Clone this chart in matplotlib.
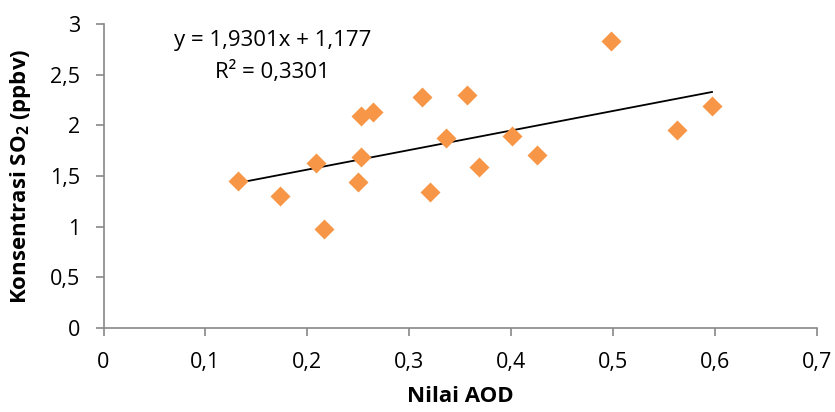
import numpy as np
import matplotlib
matplotlib.use("Agg")
import matplotlib.pyplot as plt
from matplotlib.ticker import FuncFormatter, MultipleLocator

plt.rcParams['font.family'] = ['Open Sans', 'DejaVu Sans']
plt.rcParams['mathtext.fontset'] = 'custom'
plt.rcParams['mathtext.rm'] = 'Open Sans'
plt.rcParams['mathtext.bf'] = 'Open Sans:bold'

aod = [0.132, 0.173, 0.208, 0.2165, 0.250, 0.2525, 0.2527, 0.264, 0.312,
       0.320, 0.3365, 0.357, 0.368, 0.401, 0.4257, 0.498, 0.563, 0.597]
so2 = [1.454, 1.30, 1.626, 0.974, 1.441, 2.096, 1.685, 2.135, 2.277,
       1.339, 1.876, 2.297, 1.586, 1.892, 1.705, 2.83, 1.955, 2.19]

slope = 1.9301
intercept = 1.177
eq_text = "y = 1,9301x + 1,177"
r2_text = "R² = 0,3301"

fig = plt.figure(figsize=(8.35, 4.12), dpi=100)
ax = fig.add_axes([103.5/835, 1 - 328/412, (817 - 103.5)/835, (328 - 24)/412])

ax.plot(aod, so2, 'D', color='#F79646', ms=10, mec='none', zorder=3)

xl = np.array([min(aod), max(aod)])
ax.plot(xl, slope*xl + intercept, color='black', lw=1.3, zorder=2)

ax.text(0.166, 2.84, eq_text, ha='center', va='center', fontsize=16)
ax.text(0.166, 2.53, r2_text, ha='center', va='center', fontsize=16)

ax.set_xlim(0, 0.7)
ax.set_ylim(0, 3)
ax.xaxis.set_major_locator(MultipleLocator(0.1))
ax.yaxis.set_major_locator(MultipleLocator(0.5))

def comma(v, pos):
    s = ('%.1f' % v).rstrip('0').rstrip('.')
    return s.replace('.', ',')

ax.xaxis.set_major_formatter(FuncFormatter(comma))
ax.yaxis.set_major_formatter(FuncFormatter(comma))

for s in ['top', 'right']:
    ax.spines[s].set_visible(False)
for s in ['left', 'bottom']:
    ax.spines[s].set_color('#888888')
    ax.spines[s].set_linewidth(1.2)
ax.tick_params(axis='both', direction='out', length=6, width=1.2, color='#888888',
               labelsize=15.5, pad=11)
ax.tick_params(axis='x', pad=11)

ax.set_xlabel("Nilai AOD", fontsize=16, fontweight='bold', labelpad=10)
ax.set_ylabel(r"Konsentrasi SO$_\mathbf{2}$ (ppbv)", fontsize=16, fontweight='bold', labelpad=12)

fig.savefig("out.png", dpi=100)
